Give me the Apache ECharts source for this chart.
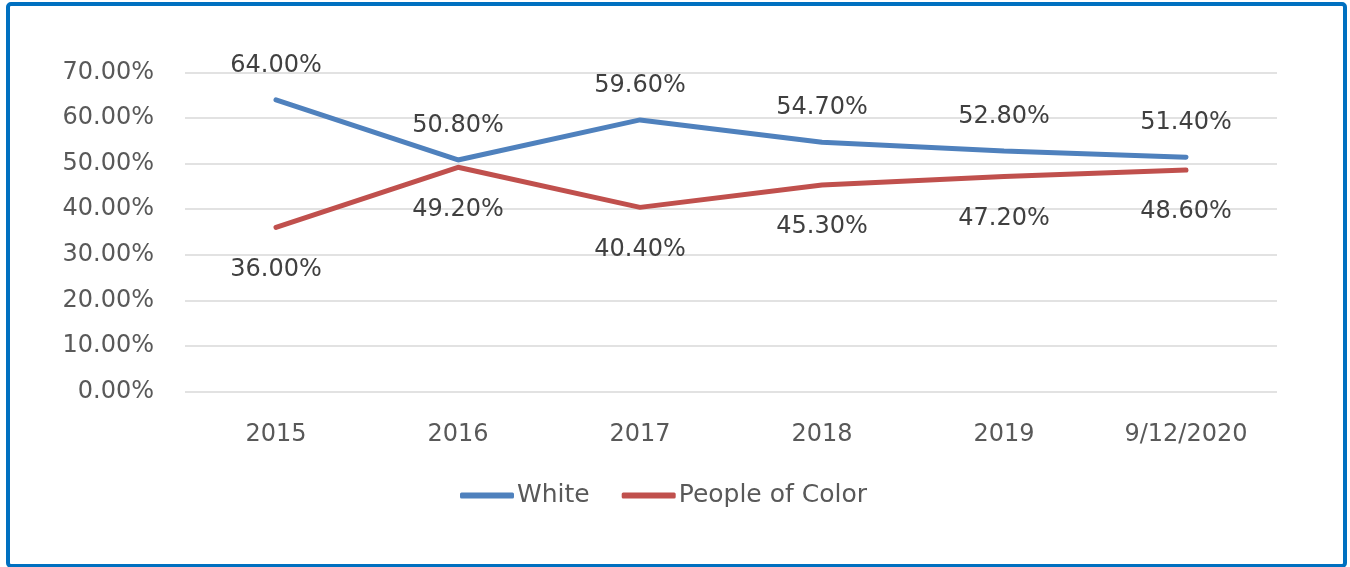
<!DOCTYPE html>
<html>
<head>
<meta charset="utf-8">
<script src="https://cdn.jsdelivr.net/npm/echarts@6/dist/echarts.min.js"></script>
<style>
html,body{margin:0;padding:0;background:#fff;}
#chart{width:1350px;height:567px;}
</style>
</head>
<body>
<div id="chart"></div>
<script>
const categories = ['2015', '2016', '2017', '2018', '2019', '9/12/2020'];
const whiteValues = [64.0, 50.8, 59.6, 54.7, 52.8, 51.4];
const pocValues = [36.0, 49.2, 40.4, 45.3, 47.2, 48.6];
const seriesNames = ['White', 'People of Color'];
const seriesColors = ['#4F81BD', '#C0504D'];

const FONT = 'DejaVu Sans';
const TXT = '#595959';

const chart = echarts.init(document.getElementById('chart'));
chart.setOption({
  animation: false,
  backgroundColor: '#fff',
  graphic: [{
    type: 'rect',
    shape: {x: 8, y: 4, width: 1337, height: 562, r: 3},
    style: {fill: 'none', stroke: '#0070C0', lineWidth: 4},
    z: 100
  }],
  grid: {left: 185, right: 73, top: 72.5, bottom: 175.5, containLabel: false},
  legend: {
    data: seriesNames.map((n, i) => ({name: n, itemStyle: {color: seriesColors[i], opacity: 1, borderWidth: 0}})),
    bottom: 59,
    left: 460,
    padding: 0,
    itemWidth: 54,
    itemHeight: 6,
    itemGap: 32,
    icon: 'roundRect',
    textStyle: {fontFamily: FONT, fontSize: 25, color: TXT, padding: [0, 0, 0, -2]}
  },
  xAxis: {
    type: 'category',
    data: categories,
    boundaryGap: true,
    axisLine: {show: false},
    axisTick: {show: false},
    axisLabel: {fontFamily: FONT, fontSize: 24, color: TXT, margin: 31}
  },
  yAxis: {
    type: 'value',
    min: 0,
    max: 70,
    interval: 10,
    axisLine: {show: false},
    axisTick: {show: false},
    splitLine: {lineStyle: {color: '#D9D9D9', width: 1.5}},
    axisLabel: {fontFamily: FONT, fontSize: 24, color: TXT, margin: 31,
      formatter: v => v.toFixed(2) + '%'}
  },
  series: [whiteValues, pocValues].map((vals, i) => ({
    name: seriesNames[i],
    type: 'line',
    data: vals,
    symbol: 'circle',
    symbolSize: 2,
    showSymbol: true,
    itemStyle: {color: 'rgba(0,0,0,0)', borderWidth: 0},
    lineStyle: {width: 5, color: seriesColors[i], cap: 'round'},
    label: {show: true, position: i === 0 ? 'top' : 'bottom', distance: i === 0 ? 21 : 29,
      fontFamily: FONT, fontSize: 24, color: '#404040',
      formatter: p => p.value.toFixed(2) + '%'}
  }))
});
</script>
</body>
</html>
